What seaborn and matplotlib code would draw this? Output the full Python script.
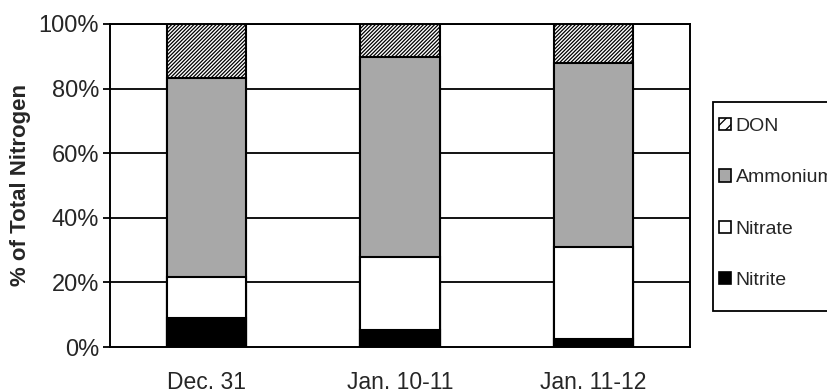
import matplotlib
matplotlib.use("Agg")
import matplotlib.pyplot as plt
from matplotlib.patches import Patch, Rectangle
import numpy as np
import pandas as pd
import seaborn as sns

# Nitrogen fractions (% of total nitrogen) per sampling period
periods = ["Dec. 31", "Jan. 10-11", "Jan. 11-12"]
nitrite = [9.1, 5.3, 2.5]
nitrate = [12.7, 22.7, 28.4]
ammonium = [61.4, 61.9, 56.9]
don = [16.8, 10.1, 12.2]

species = ["Nitrite", "Nitrate", "Ammonium", "DON"]
fills = {"Nitrite": "black", "Nitrate": "white", "Ammonium": "#a8a8a8", "DON": "white"}
hatches = {"Nitrite": "", "Nitrate": "", "Ammonium": "", "DON": "/////////"}

sns.set_theme(style="white")
plt.rcParams["font.family"] = ["Liberation Sans", "DejaVu Sans"]
plt.rcParams["hatch.linewidth"] = 0.9

df = pd.DataFrame({"period": periods, "Nitrite": nitrite, "Nitrate": nitrate,
                   "Ammonium": ammonium, "DON": don})
cum = df[species].cumsum(axis=1)

fig = plt.figure(figsize=(8.27, 3.92), dpi=100)
ax = fig.add_axes([110 / 827, 1 - 347 / 392, 580 / 827, 323 / 392])

# horizontal gridlines behind the bars
for yv in [20, 40, 60, 80, 100]:
    ax.axhline(yv, color="black", lw=1.3, zorder=0)

# stacked bars: draw cumulative totals from the top segment down
for sp in reversed(species):
    sns.barplot(x=df["period"], y=cum[sp], ax=ax, color=fills[sp], width=0.41,
                edgecolor="black", linewidth=1.5, hatch=hatches[sp],
                saturation=1, zorder=2)

ax.set_xlim(-0.5, 2.5)
ax.set_ylim(0, 100)
ax.set_yticks([0, 20, 40, 60, 80, 100])
ax.set_yticklabels([f"{v}%" for v in [0, 20, 40, 60, 80, 100]], fontsize=17)
ax.set_xticks([0, 1, 2])
ax.set_xticklabels(periods, fontsize=16.5)
ax.set_xticks([-0.5, 0.5, 1.5, 2.5], minor=True)
ax.tick_params(axis="x", which="major", length=0, pad=17)
ax.tick_params(axis="x", which="minor", length=5, width=1.3, color="black", direction="out")
ax.tick_params(axis="y", which="major", length=5, width=1.3, color="black",
               direction="out", pad=3, left=True)
ax.set_xlabel("")
ax.set_ylabel("% of Total Nitrogen", fontsize=16, fontweight="bold", labelpad=5)

for side in ["left", "right", "top", "bottom"]:
    ax.spines[side].set_visible(True)
    ax.spines[side].set_color("black")
    ax.spines[side].set_linewidth(1.4)

# legend box frame
fig.patches.append(Rectangle((713 / 827, 1 - 311 / 392), 0.3, 209 / 392,
                             transform=fig.transFigure, facecolor="white",
                             edgecolor="black", linewidth=1.3, zorder=1))

handles = [Patch(facecolor=fills[s], edgecolor="black",
                 hatch="///" if s == "DON" else "", linewidth=1.2)
           for s in reversed(species)]
leg = fig.legend(handles, list(reversed(species)), loc="upper left",
                 bbox_to_anchor=(719 / 827, 1 - 118 / 392), fontsize=14,
                 handlelength=0.6, handleheight=0.6, handletextpad=0.25,
                 labelspacing=1.76, borderpad=0, borderaxespad=0,
                 frameon=False)
leg.set_zorder(3)

fig.savefig("out.png", dpi=100)
